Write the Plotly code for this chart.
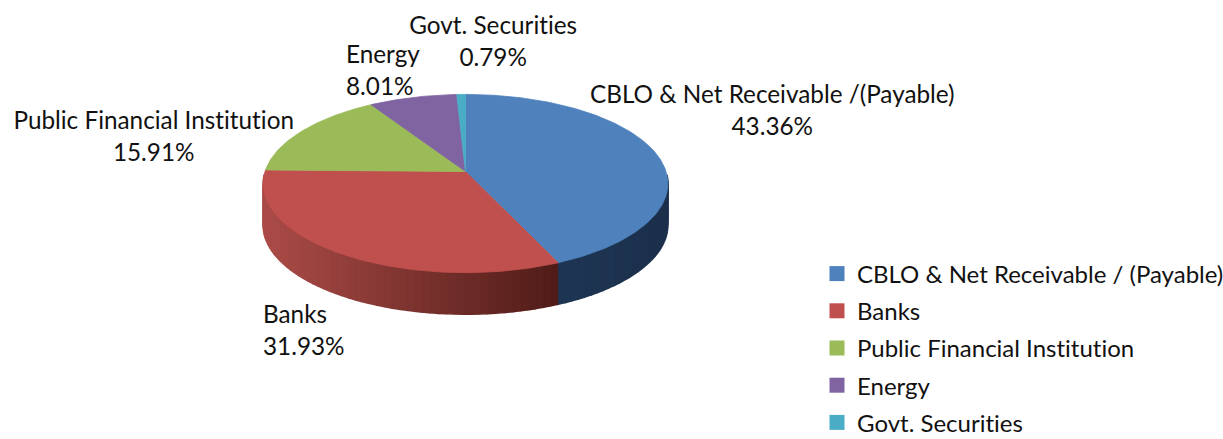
import numpy as np
import plotly.graph_objects as go

# Data
categories = ["CBLO & Net Receivable / (Payable)", "Banks", "Public Financial Institution", "Energy", "Govt. Securities"]
label_names = ["CBLO & Net Receivable /(Payable)", "Banks", "Public Financial Institution", "Energy", "Govt. Securities"]
shares = [43.36, 31.93, 15.91, 8.01, 0.79]

# Style and layout
colors = ["#4f81bd", "#c0504d", "#9bbb59", "#8064a2", "#4bacc6"]
wall_light = [(30, 54, 84), (172, 76, 72), (130, 150, 70), (100, 80, 130), (60, 130, 150)]
wall_dark = [(28, 48, 76), (80, 28, 24), (110, 130, 60), (90, 70, 120), (50, 110, 130)]
FONT = "Lato"
FS = 24.3
CX, CY, RX, RY, K, DEPTH = 465.5, 171.5, 200.5, 87.5, 0.135, 41.5
label_xy = [(772, 109), (303.5, 329), (153, 135), (383, 69), (493, 40)]
label_align = ["center", "left", "center", "left", "center"]


def project(theta, depth=0.0):
    """Map a clockwise-from-top angle (radians) on the disc to pixel coords."""
    px, pz = np.sin(theta), np.cos(theta)
    s = 1 / (1 + K * pz)
    return CX + RX * px * s, CY - RY * pz * s + depth


total = sum(shares)
edges = np.concatenate([[0], np.cumsum(shares)]) / total * 2 * np.pi

fig = go.Figure()


def poly(xs, ys, color, width=0.8):
    fig.add_trace(go.Scatter(x=xs, y=ys, mode="lines", fill="toself", fillcolor=color,
                             line=dict(color=color, width=width), hoverinfo="skip", showlegend=False))


# Side wall (only the near half of the disc is visible)
wall_lo, wall_hi = np.radians(92), np.radians(268)
for i in range(len(shares)):
    a0, a1 = max(edges[i], wall_lo), min(edges[i + 1], wall_hi)
    if a1 <= a0:
        continue
    n = max(2, int(np.degrees(a1 - a0) / 2))
    ts = np.linspace(a0, a1, n + 1)
    seg_x = [project(t)[0] for t in ts]
    x_start, x_end = max(seg_x), min(seg_x)
    for t0, t1 in zip(ts[:-1], ts[1:]):
        sub = np.linspace(t0, t1, 4)
        xt, yt = project(sub)
        xb, yb = project(sub[::-1], DEPTH)
        f = (x_start - xt.mean()) / max(x_start - x_end, 1)
        c = [int(d + (l - d) * f) for l, d in zip(wall_light[i], wall_dark[i])]
        poly(list(xt) + list(xb), list(yt) + list(yb), "rgb(%d,%d,%d)" % tuple(c), 1.6)

# Top face
for i in range(len(shares)):
    ts = np.linspace(edges[i], edges[i + 1], max(3, int(shares[i] * 4)))
    xt, yt = project(ts)
    poly([CX] + list(xt) + [CX], [CY] + list(yt) + [CY], colors[i])

# Legend
for name, col in zip(categories, colors):
    fig.add_trace(go.Scatter(x=[None], y=[None], mode="markers", name=name, legendgroup=name,
                             marker=dict(symbol="square", size=15, color=col)))

annotations = []
for name, share, (lx, ly), al in zip(label_names, shares, label_xy, label_align):
    annotations.append(dict(x=lx, y=ly, xref="x", yref="y", showarrow=False,
                            text=f"{name}<br>{share:.2f}%", align=al,
                            font=dict(family=FONT, size=FS, color="#111111")))

fig.update_layout(
    width=1223, height=439, margin=dict(l=0, r=0, t=0, b=0, autoexpand=False),
    paper_bgcolor="white", plot_bgcolor="white",
    xaxis=dict(range=[0, 1223], visible=False, fixedrange=True),
    yaxis=dict(range=[439, 0], visible=False, fixedrange=True),
    annotations=annotations,
    legend=dict(x=817 / 1223, y=1 - 251.5 / 439, xanchor="left", yanchor="top",
                font=dict(family=FONT, size=24, color="#111111"),
                traceorder="grouped", tracegroupgap=3, itemwidth=30,
                bgcolor="rgba(0,0,0,0)"),
)
fig.write_html("out.html", config={"displayModeBar": False},
               post_script="document.body.style.margin='0';document.body.style.overflow='hidden';"
                           "var s=document.createElement('style');"
                           "s.textContent='text{font-variant-ligatures:none!important;font-feature-settings:\"liga\" 0!important}';"
                           "document.head.appendChild(s);")
